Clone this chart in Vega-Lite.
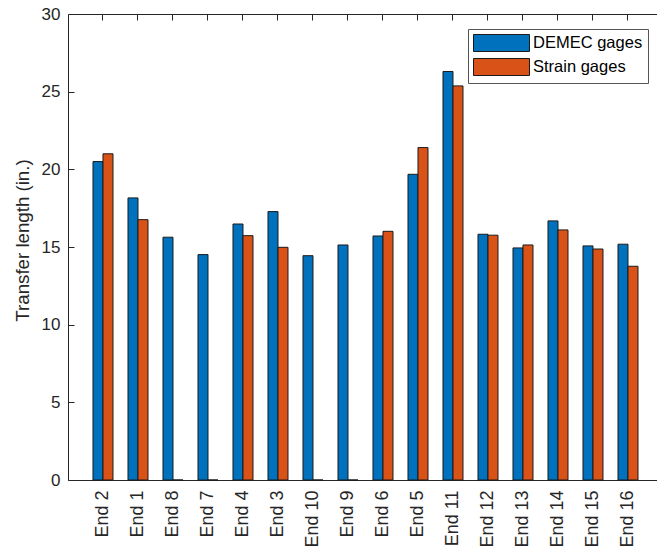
{
  "$schema": "https://vega.github.io/schema/vega-lite/v6.json",
  "width": 589,
  "height": 466,
  "autosize": {"type": "none"},
  "padding": {"left": 68, "top": 14, "right": 0, "bottom": 68},
  "background": "white",
  "config": {
    "view": {"stroke": null},
    "font": "Liberation Sans",
    "axis": {"domainColor": "#262626", "tickColor": "#262626", "labelColor": "#262626", "titleColor": "#262626", "labelFont": "Liberation Sans", "titleFont": "Liberation Sans", "grid": false}
  },
  "data": {
    "values": [
      {"end": "End 2", "series": "DEMEC gages", "value": 20.5},
      {"end": "End 2", "series": "Strain gages", "value": 21.0},
      {"end": "End 1", "series": "DEMEC gages", "value": 18.16},
      {"end": "End 1", "series": "Strain gages", "value": 16.76},
      {"end": "End 8", "series": "DEMEC gages", "value": 15.63},
      {"end": "End 8", "series": "Strain gages", "value": 0},
      {"end": "End 7", "series": "DEMEC gages", "value": 14.51},
      {"end": "End 7", "series": "Strain gages", "value": 0},
      {"end": "End 4", "series": "DEMEC gages", "value": 16.48},
      {"end": "End 4", "series": "Strain gages", "value": 15.73},
      {"end": "End 3", "series": "DEMEC gages", "value": 17.28},
      {"end": "End 3", "series": "Strain gages", "value": 14.98},
      {"end": "End 10", "series": "DEMEC gages", "value": 14.44},
      {"end": "End 10", "series": "Strain gages", "value": 0},
      {"end": "End 9", "series": "DEMEC gages", "value": 15.13},
      {"end": "End 9", "series": "Strain gages", "value": 0},
      {"end": "End 6", "series": "DEMEC gages", "value": 15.71},
      {"end": "End 6", "series": "Strain gages", "value": 16.01},
      {"end": "End 5", "series": "DEMEC gages", "value": 19.68},
      {"end": "End 5", "series": "Strain gages", "value": 21.4},
      {"end": "End 11", "series": "DEMEC gages", "value": 26.3},
      {"end": "End 11", "series": "Strain gages", "value": 25.37},
      {"end": "End 12", "series": "DEMEC gages", "value": 15.82},
      {"end": "End 12", "series": "Strain gages", "value": 15.76},
      {"end": "End 13", "series": "DEMEC gages", "value": 14.94},
      {"end": "End 13", "series": "Strain gages", "value": 15.13},
      {"end": "End 14", "series": "DEMEC gages", "value": 16.68},
      {"end": "End 14", "series": "Strain gages", "value": 16.1},
      {"end": "End 15", "series": "DEMEC gages", "value": 15.07},
      {"end": "End 15", "series": "Strain gages", "value": 14.87},
      {"end": "End 16", "series": "DEMEC gages", "value": 15.18},
      {"end": "End 16", "series": "Strain gages", "value": 13.76}
    ]
  },
  "layer": [
    {
      "mark": {"type": "bar", "stroke": "#1a1a1a", "strokeWidth": 1},
      "encoding": {
        "x": {
          "field": "end", "type": "nominal",
          "sort": ["End 2", "End 1", "End 8", "End 7", "End 4", "End 3", "End 10", "End 9", "End 6", "End 5", "End 11", "End 12", "End 13", "End 14", "End 15", "End 16"],
          "scale": {"paddingInner": 0.4286, "paddingOuter": 0.6286, "align": 0.568},
          "axis": {"orient": "bottom", "title": null, "ticks": false, "labelAngle": -90, "labelPadding": 10, "labelFontSize": 18, "domainWidth": 1}
        },
        "xOffset": {"field": "series", "type": "nominal", "sort": ["DEMEC gages", "Strain gages"]},
        "y": {
          "field": "value", "type": "quantitative",
          "scale": {"domain": [0, 30], "nice": false},
          "axis": {"title": "Transfer length (in.)", "values": [0, 5, 10, 15, 20, 25, 30], "tickSize": -6, "labelPadding": 14, "labelFontSize": 17, "titleFontSize": 18.7, "titleFontWeight": "normal", "titleAngle": -90, "titleX": -46, "titleY": 226, "titleAlign": "center", "titleBaseline": "middle"}
        },
        "color": {
          "field": "series", "type": "nominal",
          "scale": {"domain": ["DEMEC gages", "Strain gages"], "range": ["#0072BD", "#D95319"]},
          "legend": {"orient": "none", "legendX": 400, "legendY": 15, "title": null, "symbolType": "M-1,-1H5.588V1H-1Z", "symbolSize": 289, "symbolStrokeColor": "#1a1a1a", "symbolStrokeWidth": 1, "symbolOpacity": 1, "labelFont": "Liberation Sans", "labelFontSize": 16.5, "labelColor": "#000000", "labelOffset": 42, "padding": 5, "rowPadding": 2, "strokeColor": "#555555", "fillColor": "white"}
        }
      }
    },
    {
      "mark": {"type": "bar", "opacity": 0},
      "encoding": {
        "x": {
          "field": "end", "type": "nominal",
          "sort": ["End 2", "End 1", "End 8", "End 7", "End 4", "End 3", "End 10", "End 9", "End 6", "End 5", "End 11", "End 12", "End 13", "End 14", "End 15", "End 16"],
          "axis": {"orient": "top", "title": null, "labels": false, "tickSize": -6, "domainWidth": 1}
        },
        "y": {"field": "value", "type": "quantitative"}
      }
    }
  ],
  "resolve": {"axis": {"x": "independent"}}
}
